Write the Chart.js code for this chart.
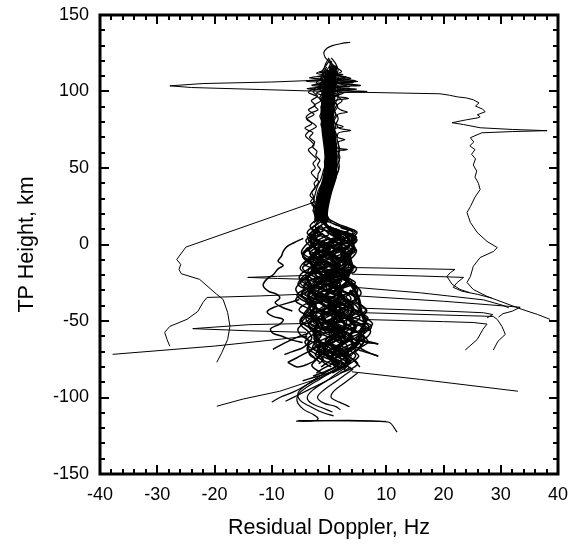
<!DOCTYPE html>
<html>
<head>
<meta charset="utf-8">
<script src="https://cdn.jsdelivr.net/npm/chart.js@4.4.1/dist/chart.umd.min.js"></script>
<style>
  html, body { margin: 0; padding: 0; background: #fff; }
  canvas { display: block; }
</style>
</head>
<body>
<canvas id="doppler" width="581" height="544"></canvas>
<script>
// Axis ticks (Hz across, km up)
const xMajorTicks = [-40, -30, -20, -10, 0, 10, 20, 30, 40];
const xMinorTicks = [-38, -36, -34, -32, -28, -26, -24, -22, -18, -16, -14, -12, -8, -6, -4, -2,
                     2, 4, 6, 8, 12, 14, 16, 18, 22, 24, 26, 28, 32, 34, 36, 38];
const yMajorTicks = [-150, -100, -50, 0, 50, 100, 150];
const yMinorTicks = [-140, -130, -120, -110, -90, -80, -70, -60, -40, -30, -20, -10,
                     10, 20, 30, 40, 60, 70, 80, 90, 110, 120, 130, 140];

// Each profile is a flat list: doppler, height, doppler, height, ...
// Dense centre of the upper profiles
const coreTraces = [
  [0.7,117, 0.7,112, 0.6,107, 0.5,101, 0.4,95, 0.3,89, 0.2,83, 0.3,77, 0.5,71, 0.7,65, 0.8,59, 0.8,53,
   0.7,47, 0.4,41, -0.1,35, -0.5,29, -0.8,23, -0.9,18, -0.7,14],
  [0.1,114, -0.2,109, -0.4,104, -0.6,98, -0.7,92, -0.8,86, -0.7,80, -0.6,74, -0.4,68, -0.2,62, -0.1,56,
   -0.2,50, -0.4,44, -0.8,38, -1.3,32, -1.7,26, -1.9,20, -1.8,15]
];

// Upper profiles, 15-132 km
const upperTraces = [
  [3.7,132.2, 2.0,131.2, 0.6,130, -0.3,128.4, -0.9,125.5, -0.7,122.6, -0.1,119.8, 0.5,117, 0.7,114],
  [0.2,121, -0.5,117, -1.2,113, -1.0,109, -2.2,106, -1.5,103, -2.8,100, -2.0,97, -3.1,94, -2.4,91,
   -3.6,88, -2.6,85, -3.9,82, -3.0,79, -4.2,76, -2.8,73, -3.4,70, -2.5,67, -2.9,64, -2.1,61, -2.3,58,
   -1.6,55, -2.0,52, -1.5,49, -1.9,46, -2.0,43, -2.6,40, -2.4,37, -3.0,34, -2.7,31, -3.2,28, -2.5,25,
   -2.8,22, -2.3,19, -2.5,16],
  [0.5,120, 0,116, -0.8,112, -1.5,108, -1.0,105, -2.5,102, -3.6,99.5, -2.2,97, -1.4,94, -2.6,91,
   -1.9,88, -3.2,86, -4.0,83, -3.1,80, -2.2,77, -3.5,74, -4.1,71, -3.3,68, -2.6,65, -3.6,62, -3.0,59,
   -2.2,56, -2.8,53, -2.4,50, -3.1,47, -2.5,44, -1.8,41, -2.3,38, -2.9,35, -3.3,32, -2.6,29, -3.0,26,
   -2.2,23, -2.6,20, -2.0,17, -2.6,14],
  [0.4,122, 1.2,118, 1.6,114, 1.4,111, 3.0,109.5, 1.5,108.5, 4.6,107, 1.6,106, 2.5,105, 5.5,104,
   1.4,103, 2.0,101, 6.6,100, 1.8,99, 1.5,97, 2.3,94, 1.4,91, 2.0,88, 3.2,86.5, 1.5,85, 1.6,82, 1.3,79,
   1.8,76, 3.8,74.5, 1.7,73, 1.5,70, 2.8,68.5, 1.6,67, 1.7,64, 1.8,61, 1.6,58, 1.8,55, 1.5,52, 1.7,49,
   1.4,46, 1.2,43, 0.9,40, 0.5,37, 0.2,34, -0.1,31, -0.3,28, -0.4,25, -0.4,22, -0.3,19, 0,16],
  [0,121, 0.8,117, 2.2,113, 1.0,111, 3.8,108.5, 1.2,107.5, 5.0,106.5, 0.9,105.5, 3.0,104, 1.2,102.5,
   4.8,101.5, 0.8,100.5, 2.5,99, 1.0,97, 3.4,95.5, 1.0,94, 1.3,91, 0.9,88, 1.2,85, 0.8,82, 1.1,79,
   2.5,77, 0.9,75.5, 1.1,72, 0.8,69, 1.2,66, 1.5,63, 3.2,62, 1.3,60.5, 1.4,57, 1.2,54, 1.3,51, 1.2,48,
   0.8,45, 0.4,42, 0,39, -0.4,36, -0.8,33, -1.0,30, -0.9,27, -0.8,24, -0.7,21, -0.4,18, 0.3,15],
  [0,122, -0.6,118, -1.0,114, -2.2,112, -0.8,110.5, -3.4,109, -1.0,108, -4.0,106.8, -0.9,105.8,
   -3.0,104.2, -1.2,103, -3.8,101.8, -1.0,100.8, -2.2,99, -0.9,97, -1.6,95, -0.8,92, -1.2,89, -0.9,86,
   -1.1,83, -0.8,80, -1.0,77, -0.7,74, -0.6,71, -0.3,68, -0.2,65, 0,62, 0.1,59, 0,56, -0.1,53, -0.3,50,
   -0.5,47, -0.8,44, -1.1,41, -1.5,38, -1.9,35, -2.1,32, -2.2,29, -2.3,26, -2.3,23, -2.1,20, -1.6,17,
   -1.2,14],
  [0.3,118, 1.0,114, -1.6,112.5, 2.4,111, -2.0,109.8, 3.2,108.2, -1.4,107, 4.2,105.8, -2.6,104.6,
   3.6,103.2, -1.8,102.2, 2.8,101, -0.8,99.6, 1.8,98, 0.2,96, 1.0,93, 0.4,90, 0.8,86, 0.3,82, 0.6,78,
   0.2,74, 0.6,70, 0.9,66, 1.0,62, 0.9,58, 1.0,54, 0.8,50, 0.5,46, 0.2,42, -0.2,38, -0.6,34, -1.0,30,
   -1.3,26, -1.5,22, -1.4,18, -0.8,14],
  [-0.4,116, -1.0,112, -1.4,108, -0.6,105, -1.6,102, -1.2,99, -1.6,96, -1.0,93, -1.4,90, -1.2,87,
   -1.6,84, -1.3,81, -1.4,78, -1.0,75, -1.1,72, -0.7,69, -0.8,66, -0.5,63, -0.6,60, -0.6,57, -0.8,54,
   -0.7,51, -1.0,48, -1.2,45, -1.5,42, -1.9,39, -2.2,36, -2.4,33, -2.6,30, -2.6,27, -2.7,24, -2.5,21,
   -2.3,18, -1.8,15],
  [1.0,116, 1.4,112, 1.6,108, 1.2,105, 2.0,102, 1.4,99, 1.6,96, 1.2,93, 1.5,90, 1.0,87, 1.3,84,
   0.9,81, 1.2,78, 1.0,75, 1.3,72, 1.4,69, 1.6,66, 1.8,63, 1.7,60, 1.9,57, 1.7,54, 1.8,51, 1.6,48,
   1.3,45, 1.0,42, 0.6,39, 0.2,36, -0.2,33, -0.5,30, -0.6,27, -0.6,24, -0.5,21, -0.2,18, 0.4,15]
];

// Densest strands of the lower tangle
const lowerCoreTraces = [
  [-0.8,14, 0.6,8, 2.4,3, 1.4,-3, -1.0,-8, -2.4,-14, -1.2,-20, 0.8,-26, 2.0,-32, 0.8,-38, -1.2,-44,
   -0.6,-50, 1.6,-56, 2.8,-62, 1.6,-68, 0.4,-74, 1.2,-80],
  [-1.6,12, -2.6,6, -1.4,0, 0.4,-6, 1.8,-12, 0.6,-18, -1.4,-24, -2.8,-30, -2.0,-36, 0,-42, 2.0,-48,
   2.8,-54, 1.0,-60, -0.8,-66, -0.4,-72, 1.6,-78],
  [0.4,10, 3.0,6, 3.6,0, 2.2,-6, 3.0,-12, 2.4,-18, 3.2,-24, 1.6,-30, 2.6,-36, 4.2,-42, 3.4,-48,
   4.6,-54, 3.6,-60, 4.2,-66, 2.8,-72, 3.4,-78],
  [-2.4,8, -3.2,2, -2.2,-4, -3.4,-10, -2.6,-16, -3.8,-22, -3.0,-28, -3.6,-34, -2.4,-40, -3.2,-46,
   -2.0,-52, -2.6,-58, -1.6,-64, -2.0,-70],
  [1.2,4, -0.4,-2, 0.6,-10, 1.8,-16, 0.2,-22, 0.4,-28, -0.6,-34, 0.8,-40, 1.4,-46, 0.4,-52, 1.4,-58,
   2.2,-64, 1.0,-70, 0.2,-76],
  [4.0,5, 4.2,-2, 3.6,-8, 4.0,-15, 3.0,-21, 4.2,-28, 5.2,-36, 5.6,-44, 6.4,-50, 5.6,-56, 5.2,-62,
   4.0,-68]
];

// Lower profiles, the tangled part below 18 km
const lowerTraces = [
  [-1.0,16, -2.2,13, -3.0,10, -2.0,7, -0.5,4, 0.8,1, 0.2,-2, -1.5,-5, -3.2,-8, -3.8,-11, -2.4,-14,
   -0.6,-17, 0.6,-20, -0.4,-23, -2.2,-26, -3.6,-29, -3.0,-32, -1.2,-35, 0.6,-38, 1.4,-41, 0.4,-44,
   -1.6,-47, -2.8,-50, -2.0,-53, -0.2,-56, 1.2,-59, 0.8,-62, -0.8,-65, -1.8,-68, -1.0,-71, 0.6,-74,
   1.8,-77, 1.2,-80, -0.6,-83, -2.8,-86],
  [-1.2,17, 0.5,14, 2.6,11, 4.6,8, 3.2,5, 1.2,2, 0.4,-1, 1.8,-4, 3.6,-7, 3.0,-10, 1.0,-13, -0.8,-16,
   -0.2,-19, 1.8,-22, 3.4,-25, 2.6,-28, 0.6,-31, -0.4,-34, 0.8,-37, 3.0,-40, 4.6,-43, 4.0,-46, 2.0,-49,
   0.6,-52, 1.4,-55, 3.4,-58, 4.2,-61, 3.0,-64, 1.4,-67, 1.0,-70, 2.4,-73, 3.8,-76, 3.0,-79, 1.2,-82,
   -0.4,-85],
  [-0.8,15, -0.2,12, 1.6,9.5, 3.8,7, 4.8,4.5, 3.6,2, 1.4,-0.5, -0.8,-3, -2.6,-6, -3.0,-9, -1.6,-12,
   0.4,-15, 1.8,-18, 1.4,-21, -0.4,-24, -2.4,-27, -4.2,-30, -4.8,-33, -3.4,-36, -1.2,-39, 0.2,-42,
   -0.4,-45, -2.2,-48, -3.6,-51, -3.2,-54, -1.4,-57, 0.4,-60, 1.0,-63, 0,-66, -1.6,-69, -2.4,-72,
   -1.4,-75, 0.4,-78, 2.2,-81],
  [-1.5,18, -2.6,15, -3.3,12, -2.4,9, -0.8,6, 0.6,3, 2.4,0, 3.8,-3, 3.2,-6, 1.6,-9, 0,-12, -1.4,-15,
   -2.8,-18, -3.4,-21, -2.2,-24, -0.2,-27, 1.8,-30, 3.4,-33, 3.8,-36, 2.6,-39, 0.8,-42, -0.8,-45,
   -1.2,-48, 0.2,-51, 2.2,-54, 4.6,-57, 6.2,-60, 5.4,-63, 3.4,-66, 2.0,-69, 2.6,-72, 4.2,-75, 5.0,-78,
   4.0,-81, 2.0,-84],
  [-1.8,14, -3.0,11, -3.8,8, -3.2,5, -2.0,2, -2.6,-1, -3.8,-4, -4.6,-7, -4.2,-10, -3.0,-13, -3.6,-16,
   -4.8,-19, -5.2,-22, -4.4,-25, -3.2,-28, -4.0,-31, -5.4,-34, -5.8,-37, -4.6,-40, -3.2,-43, -3.8,-46,
   -4.8,-49, -4.4,-52, -3.0,-55, -2.6,-58, -3.6,-61, -4.2,-64, -3.4,-67, -2.0,-70, -1.6,-73, -2.4,-76,
   -3.0,-79, -2.2,-82, -0.8,-85],
  [0.2,16, 1.8,13, 3.6,10.5, 4.9,8, 4.4,5, 4.8,2, 4.0,-1, 4.6,-4, 3.6,-7, 2.6,-10, 3.4,-13, 4.2,-16,
   3.6,-19, 2.8,-22, 3.8,-25, 4.8,-28, 4.2,-31, 3.0,-34, 3.8,-37, 5.6,-40, 6.4,-43, 5.6,-46, 6.8,-49,
   7.6,-52, 6.6,-55, 5.4,-58, 6.4,-61, 6.8,-64, 5.6,-67, 4.6,-70, 5.2,-73, 4.4,-76, 3.2,-79, 2.6,-82],
  [-0.6,13, 0.8,10, 2.0,7, 1.4,4, -0.4,1, -1.8,-2, -1.2,-5, 0.6,-8, 2.4,-11, 3.4,-14, 2.6,-17, 0.8,-20,
   -1.2,-23, -2.0,-26, -0.8,-29, 1.2,-32, 2.8,-35, 2.2,-38, 0.2,-41, -1.8,-44, -2.4,-47, -1.0,-50,
   1.0,-53, 2.6,-56, 2.2,-59, 0.6,-62, -1.0,-65, -0.6,-68, 1.0,-71, 2.8,-74, 3.6,-77, 2.8,-80, 0.8,-83,
   -1.8,-86, -4.6,-89],
  [-1.4,12, -0.6,9, 0.8,6, 2.8,3, 4.2,0, 4.0,-3, 2.4,-6, 0.4,-9, -1.6,-12, -2.8,-15, -2.2,-18, -0.6,-21,
   1.2,-24, 2.0,-27, 1.0,-30, -1.0,-33, -2.6,-36, -3.2,-39, -2.0,-42, 0.4,-45, 2.6,-48, 4.0,-51, 3.4,-54,
   1.8,-57, 0.2,-60, -0.6,-63, 0.4,-66, 2.0,-69, 3.2,-72, 2.4,-75, 0.6,-78, -1.0,-81, -2.2,-84],
  [-2.0,10, -3.4,7, -3.0,4, -1.4,1, 0.4,-2, 1.2,-5, 0.2,-8, -1.6,-11, -3.0,-14, -2.6,-17, -1.0,-20,
   0.8,-23, 1.2,-26, 0,-29, -2.0,-32, -3.6,-35, -4.0,-38, -2.8,-41, -1.0,-44, 0.8,-47, 1.4,-50, 0.4,-53,
   -1.4,-56, -2.6,-59, -2.2,-62, -0.6,-65, 1.2,-68, 2.0,-71, 1.4,-74, -0.2,-77, -1.4,-80],
  [0.6,11, 2.2,8, 3.0,5, 2.2,2, 0.6,-1, -0.8,-4, -0.2,-7, 1.4,-10, 2.6,-13, 2.0,-16, 0.4,-19, -1.6,-22,
   -2.8,-25, -2.2,-28, -0.4,-31, 1.8,-34, 3.6,-37, 4.2,-40, 3.0,-43, 1.2,-46, 0.4,-49, 1.6,-52, 3.6,-55,
   5.2,-58, 4.6,-61, 2.8,-64, 1.0,-67, 0.2,-70, 1.2,-73, 2.8,-76, 3.4,-79],
  [-0.2,15.5, -1.4,12.5, -2.6,9.5, -3.2,6.5, -2.2,3.5, -0.4,0.5, 1.0,-2.5, 0.6,-5.5, -1.0,-8.5,
   -2.2,-11.5, -1.4,-14.5, 0.6,-17.5, 2.6,-20.5, 4.0,-23.5, 3.2,-26.5, 1.2,-29.5, -0.6,-32.5, -1.2,-35.5,
   0.2,-38.5, 2.4,-41.5, 4.4,-44.5, 5.4,-47.5, 4.6,-50.5, 2.6,-53.5, 1.0,-56.5, 1.6,-59.5, 3.4,-62.5,
   4.8,-65.5, 4.2,-68.5, 2.4,-71.5, 0.8,-74.5],
  [0.8,13.5, 2.8,10.5, 4.2,8, 3.4,5.5, 1.4,3, -0.6,0.5, -2.4,-2.5, -3.4,-5.5, -2.6,-8.5, -0.8,-11.5,
   1.0,-14.5, 2.2,-17.5, 1.6,-20.5, -0.2,-23.5, -2.0,-26.5, -3.0,-29.5, -2.2,-32.5, -0.2,-35.5, 1.6,-38.5,
   2.0,-41.5, 0.8,-44.5, -1.0,-47.5, -1.8,-50.5, -0.8,-53.5, 1.0,-56.5, 2.8,-59.5, 3.4,-62.5, 2.4,-65.5,
   0.6,-68.5, -0.6,-71.5, 0,-74.5, 1.4,-77.5],
  [-1.6,9, -2.8,6, -4.0,3, -3.6,0, -2.2,-3, -1.0,-6, -1.8,-9, -3.4,-12, -4.6,-15, -4.0,-18, -2.6,-21,
   -1.8,-24, -2.8,-27, -4.6,-30, -5.6,-33, -4.8,-36, -3.0,-39, -2.0,-42, -2.8,-45, -4.2,-48, -4.6,-51,
   -3.6,-54, -2.0,-57, -1.4,-60, -2.4,-63, -3.6,-66, -3.4,-69, -2.0,-72, -1.0,-75, -1.8,-78],
  [1.2,10, 3.0,7.5, 4.6,5, 4.0,2.5, 2.4,0, 1.8,-3, 2.8,-6, 3.8,-9, 3.2,-12, 1.6,-15, 0.8,-18, 1.8,-21,
   3.4,-24, 4.6,-27, 4.2,-30, 2.6,-33, 1.4,-36, 2.0,-39, 3.8,-42, 5.6,-45, 6.8,-48, 6.2,-51, 4.4,-54,
   3.0,-57, 3.4,-60, 4.8,-63, 5.6,-66, 5.0,-69, 3.6,-72, 3.0,-75, 3.8,-78],
  [-0.4,8, 1.0,5, 2.0,2, 1.0,-1, -0.8,-4, -2.2,-7, -1.8,-10, -0.2,-13, 1.6,-16, 2.8,-19, 2.2,-22,
   0.4,-25, -1.4,-28, -1.8,-31, -0.2,-34, 1.8,-37, 3.0,-40, 2.2,-43, 0.4,-46, -0.8,-49, 0,-52, 1.8,-55,
   3.4,-58, 3.8,-61, 2.6,-64, 0.8,-67, -0.4,-70, 0.2,-73, 1.8,-76, 3.0,-79, 4.2,-82],
  [-2.4,4, -1.2,1, 0.8,-2, 2.6,-5, 3.2,-8, 2.0,-11, 0,-14, -1.8,-17, -2.4,-20, -1.0,-23, 1.0,-26,
   2.4,-29, 2.0,-32, 0.2,-35, -1.8,-38, -3.4,-41, -3.8,-44, -2.4,-47, -0.4,-50, 1.6,-53, 2.2,-56,
   1.0,-59, -1.0,-62, -2.6,-65, -2.8,-68, -1.4,-71, 0.4,-74, 1.6,-77, 1.0,-80, -0.6,-83],
  [-0.4,3, -2.0,0, -3.4,-3, -3.2,-6, -1.6,-9, 0.2,-12, 1.0,-15, 0,-18, -1.8,-21, -3.6,-24, -4.4,-27,
   -3.6,-30, -1.6,-33, 0.2,-36, 0.6,-39, -0.6,-42, -2.6,-45, -4.0,-48, -3.6,-51, -1.8,-54, 0,-57,
   0.6,-60, -0.2,-63, -2.0,-66, -3.2,-69, -3.4,-72, -2.4,-75, -3.6,-78, -5.6,-80, -7.2,-77],
  [0,6.5, -1.6,3.5, -2.8,0.5, -2.2,-2.5, -0.4,-5.5, 1.6,-8.5, 3.0,-11.5, 2.8,-14.5, 1.2,-17.5,
   -0.8,-20.5, -2.4,-23.5, -2.4,-26.5, -0.8,-29.5, 1.2,-32.5, 2.2,-35.5, 1.4,-38.5, -0.6,-41.5,
   -2.4,-44.5, -3.0,-47.5, -1.6,-50.5, 0.6,-53.5, 2.4,-56.5, 2.8,-59.5, 1.4,-62.5, -0.6,-65.5,
   -1.8,-68.5, -1.2,-71.5, 0.8,-74.5, 2.6,-77.5, 3.0,-80.5],
  [1.8,9, 3.8,6, 4.9,3, 3.8,0, 2.0,-3, 1.0,-6, 1.8,-9, 3.2,-12, 4.0,-15, 3.0,-18, 1.0,-21, -0.4,-24,
   0.2,-27, 2.2,-30, 4.0,-33, 4.8,-36, 4.0,-39, 2.2,-42, 1.6,-45, 2.8,-48, 4.8,-51, 6.4,-54, 6.0,-57,
   4.2,-60, 2.6,-63, 2.2,-66, 3.4,-69, 4.6,-72, 4.2,-75, 2.6,-78, 1.4,-81],
  [-1.2,2, -2.8,-1, -4.2,-4, -4.6,-7, -3.6,-10, -2.0,-13, -1.6,-16, -2.8,-19, -4.4,-22, -5.0,-25,
   -4.2,-28, -2.6,-31, -2.0,-34, -3.0,-37, -4.6,-40, -5.2,-43, -4.0,-46, -2.2,-49, -1.4,-52, -2.2,-55,
   -3.8,-58, -4.0,-61, -2.8,-64, -1.2,-67, -0.8,-70, -1.8,-73, -2.6,-76],
  [0.4,12, -1.2,10, 0.8,8, 2.2,6, 0.6,4, -1.4,2, -0.4,0, 1.6,-2, 2.4,-4, 0.8,-6, -1.2,-8, -2.0,-10,
   -0.6,-12, 1.2,-14, 0.4,-16, -1.6,-18, -2.4,-20, -1.0,-22, 0.8,-24, 2.0,-26, 1.0,-28, -0.8,-30,
   -1.4,-32, 0.2,-34, 2.2,-36, 3.0,-38, 1.8,-40, 0.2,-42, 0.6,-44, 2.4,-46, 3.6,-48, 2.6,-50, 0.8,-52,
   0,-54, 1.4,-56, 3.0,-58, 2.4,-60, 0.6,-62, -0.4,-64, 0.6,-66, 2.2,-68, 2.6,-70, 1.2,-72, 0,-74,
   0.8,-76, 2.4,-78],
  [-2.2,11, -1.0,9, -2.6,7, -3.8,5, -2.4,3, -1.2,1, -2.8,-1, -4.0,-3, -3.0,-5, -1.4,-7, -2.4,-9,
   -3.8,-11, -4.4,-13, -3.2,-15, -1.8,-17, -2.6,-19, -4.0,-21, -3.6,-23, -2.0,-25, -1.2,-27, -2.2,-29,
   -3.8,-31, -4.2,-33, -2.8,-35, -1.6,-37, -2.4,-39, -3.6,-41, -3.0,-43, -1.6,-45, -0.8,-47, -1.8,-49,
   -3.2,-51, -3.0,-53, -1.6,-55, -0.6,-57, -1.2,-59, -2.6,-61, -2.4,-63, -1.2,-65, -0.2,-67, -0.8,-69,
   -1.8,-71, -1.2,-73, 0,-75],
  [2.0,11, 3.4,9, 2.2,7, 3.8,5, 4.6,3, 3.2,1, 2.0,-1, 3.0,-3, 4.2,-5, 3.4,-7, 1.8,-9, 2.4,-11, 3.8,-13,
   4.4,-15, 3.0,-17, 1.6,-19, 2.2,-21, 3.8,-23, 4.6,-25, 3.6,-27, 2.2,-29, 2.8,-31, 4.2,-33, 5.0,-35,
   4.0,-37, 2.6,-39, 3.2,-41, 4.8,-43, 5.8,-45, 5.0,-47, 3.6,-49, 4.0,-51, 5.4,-53, 6.0,-55, 4.8,-57,
   3.4,-59, 3.8,-61, 5.0,-63, 5.2,-65, 4.0,-67, 2.8,-69, 3.2,-71, 4.0,-73],
  [-1.8,16, -2.4,12, -1.6,8, 0,4, 1.8,0, 2.8,-4, 2.4,-8, 0.6,-12, -1.6,-16, -3.4,-20, -4.2,-24,
   -3.4,-28, -1.4,-32, 1.0,-36, 2.8,-40, 3.4,-44, 2.4,-48, 0.4,-52, -1.6,-56, -2.4,-60, -1.6,-64,
   0.4,-68, 2.2,-72, 3.0,-76, 2.4,-80, 0.6,-84],
  [0.6,9, 2.4,7, 3.0,4.5, 2.0,3.5, 1.2,5, 1.8,6.5, 0.8,3, -0.6,0, -1.8,-3, -1.2,-5.5, 0,-4.5, 0.2,-3,
   -0.8,-5, -2.0,-8, -2.8,-11, -1.8,-13.5, -0.6,-12.5, -0.8,-11, -1.6,-13.5, -1.0,-17, 0.8,-19.5,
   2.0,-21, 1.6,-23, 0.6,-22, 1.0,-20.5, 1.8,-23.5, 1.2,-27, -0.6,-30, -2.0,-32, -1.8,-34.5, -0.8,-33.5,
   -1.2,-32, -1.6,-35, -0.4,-38, 1.6,-40.5, 2.8,-43, 2.2,-45.5, 1.2,-44.5, 1.6,-43, 2.4,-46, 2.0,-49.5,
   0.4,-52.5, -0.8,-55, -0.4,-57.5, 0.8,-56.5, 0.4,-55, 0,-58, 1.0,-61.5, 2.6,-64, 3.2,-67, 2.4,-69.5,
   1.4,-68.5, 1.8,-67, 2.4,-70, 2.0,-73.5],
  [-2.8,6, -3.6,3, -2.6,0.5, -1.8,2, -2.4,3.5, -3.0,0.5, -3.6,-3, -4.4,-6, -3.4,-8.5, -2.6,-7.5,
   -2.8,-6, -3.4,-9, -4.6,-12.5, -5.0,-16, -3.8,-18.5, -3.0,-17, -3.4,-15.5, -3.8,-18.5, -4.8,-22,
   -5.4,-26, -4.4,-28.5, -3.6,-27, -4.0,-25.5, -4.4,-29, -4.8,-33, -3.8,-36.5, -2.6,-38, -2.2,-36.5,
   -3.0,-35.5, -3.0,-39, -3.8,-42.5, -4.4,-46, -3.2,-48.5, -2.4,-47, -3.0,-46, -3.0,-49.5, -3.6,-53,
   -3.0,-56.5, -1.8,-59, -1.4,-57.5, -2.2,-57, -2.0,-60.5, -2.6,-64, -2.0,-67.5, -0.8,-70],
  [3.2,7, 4.4,4.5, 3.6,2, 2.6,3, 3.0,4.5, 3.8,1, 4.6,-2.5, 4.0,-6, 2.8,-8, 2.4,-6.5, 3.2,-5.5, 3.2,-9,
   3.8,-12.5, 4.8,-15.5, 4.2,-18.5, 3.2,-17.5, 3.4,-16, 3.6,-19.5, 3.2,-23, 4.2,-26.5, 5.0,-29.5,
   4.6,-32.5, 3.6,-31.5, 3.8,-30, 4.4,-33.5, 4.6,-37, 5.8,-40, 6.6,-43, 6.0,-46, 5.0,-45, 5.4,-43.5,
   5.8,-47, 6.2,-50.5, 7.4,-53, 7.0,-56, 5.8,-55, 6.0,-53.5, 6.2,-57, 5.6,-61, 6.0,-64.5, 5.0,-67.5,
   4.2,-66, 4.8,-65, 4.6,-68.5, 4.0,-72],
  [-0.2,10, 1.4,7, 2.8,4, 2.0,1, 0.2,-2, -1.6,-5, -2.4,-8, -1.2,-11, 0.8,-14, 2.6,-17, 3.4,-20,
   2.2,-23, 0.2,-26, -1.4,-29, -2.6,-32, -2.0,-35, -0.2,-38, 1.6,-41, 2.4,-44, 1.4,-47, -0.6,-50,
   -2.2,-53, -2.6,-56, -1.0,-59, 0.8,-62, 2.0,-65, 1.6,-68, 0,-71, -1.2,-74, -1.0,-77, 0.4,-80],
  [-1.0,7, -2.6,5, -1.8,2, 0.2,-1, 1.0,-3, 0,-5.5, -1.6,-8, -1.0,-10.5, 0.8,-13, 1.8,-15.5, 1.0,-18,
   -0.8,-20.5, -1.6,-23, -0.6,-25.5, 1.2,-28, 2.2,-30.5, 1.4,-33, -0.4,-35.5, -1.4,-38, -0.6,-40.5,
   1.2,-43, 2.4,-45.5, 1.8,-48, 0,-50.5, -1.2,-53, -0.6,-55.5, 1.0,-58, 2.0,-60.5, 1.2,-63, -0.4,-65.5,
   -1.0,-68, 0,-70.5, 1.6,-73, 2.4,-75.5],
  [1.0,5, 2.6,2, 4.0,-1, 4.8,-4, 4.2,-8, 2.8,-12, 1.6,-16, 2.0,-20, 3.6,-24, 5.0,-28, 5.6,-32,
   4.6,-36, 3.0,-40, 2.4,-44, 3.6,-48, 5.6,-52, 7.2,-56, 6.8,-60, 5.2,-64, 3.8,-68, 3.4,-72, 4.4,-76,
   5.4,-80],
  [-1.4,6, -3.0,3, -4.2,-1, -4.8,-5, -4.2,-9, -3.0,-13, -2.6,-17, -3.6,-21, -5.0,-25, -5.8,-29,
   -5.2,-33, -3.8,-37, -3.2,-41, -4.0,-45, -5.0,-49, -4.8,-53, -3.6,-57, -3.0,-61, -3.6,-65, -3.8,-69,
   -2.8,-73, -1.6,-77],
  [0.4,2, -0.8,0, 0.6,-2, 1.8,-4, 1.0,-6, -0.6,-8, 0.2,-10, 1.6,-12, 2.0,-14, 0.8,-16, -0.6,-18,
   0,-20, 1.4,-22, 2.2,-24, 1.2,-26, 0,-28, 0.6,-30, 2.0,-32, 2.8,-34, 2.0,-36, 0.8,-38, 1.2,-40,
   2.6,-42, 3.2,-44, 2.2,-46, 1.2,-48, 1.8,-50, 3.0,-52, 3.4,-54, 2.4,-56, 1.4,-58, 2.0,-60, 3.0,-62,
   2.8,-64, 1.6,-66, 1.0,-68, 1.8,-70, 2.8,-72, 3.6,-74],
  [-0.6,1, -1.8,-1, -0.8,-3, -1.6,-5, -3.0,-7, -2.2,-9, -0.8,-11, -1.6,-13, -2.8,-15, -2.0,-17,
   -0.6,-19, -1.2,-21, -2.6,-23, -2.2,-25, -0.8,-27, -0.4,-29, -1.4,-31, -2.2,-33, -1.2,-35, 0.2,-37,
   0,-39, -1.2,-41, -1.8,-43, -0.8,-45, 0.6,-47, 0.4,-49, -0.8,-51, -1.4,-53, -0.4,-55, 0.8,-57,
   0.6,-59, -0.4,-61, -0.6,-63, 0.4,-65, 1.6,-67, 1.2,-69, 0.2,-71],
  [2.8,-36, 4.4,-39, 5.2,-43, 4.0,-47, 3.0,-51, 4.2,-55, 5.6,-59, 6.2,-63, 5.4,-67, 6.6,-70, 8.6,-73],
  [1.6,-44, 3.6,-47, 5.8,-50, 7.0,-54, 6.2,-58, 4.8,-61, 6.0,-63.5, 8.6,-65],
  [-2.0,-46, -3.8,-50, -5.4,-55, -5.0,-59, -3.6,-63, -4.4,-67, -6.4,-70, -7.8,-72],
  // stragglers off the left edge of the bundle
  [-4.5,4, -6.2,1, -7.4,-1.5, -8.0,-4.5, -8.3,-7.6, -8.9,-10.9, -8.0,-13.7, -8.9,-15.9, -9.7,-19.6,
   -10.9,-22.8, -11.5,-26.7, -10.6,-30.4, -9.1,-32.6, -8.6,-35, -9.4,-38, -8.2,-41, -6.4,-43.5],
  [-5.2,-36, -7.4,-38.5, -9.6,-41, -10.8,-44, -9.8,-47, -8.0,-49, -8.6,-52, -10.2,-55, -9.8,-58,
   -8.2,-60, -6.4,-62.5, -4.6,-64],
  [-3.6,-58, -5.8,-61, -7.8,-64.5, -9.8,-68.5],
  [-1.6,-66, -3.6,-70, -5.6,-74, -7.2,-77],
  // short tails off the right edge
  [5.0,-62, 7.0,-63.6, 8.6,-65],
  [5.2,-69, 7.0,-71, 8.6,-73]
];

// Profiles that run down below -80 km
const bottomTraces = [
  [2.4,-79.5, -1.6,-88, -5.0,-96.5, -5.6,-102, -4.5,-107.6, -2.8,-111, -1.9,-113.7, -2.4,-115.3,
   -4.5,-115.6, -5.6,-115.4, 10.3,-116, 11.9,-122.6],
  [3.0,-80, 0,-88, -2.8,-95, -3.8,-100, -3.0,-104, -1.0,-107, 0.6,-109.5],
  [4.0,-82, 1.4,-89, -1.2,-96, -2.0,-100, -1.0,-103.5, 1.2,-106, 2.0,-108],
  [2.0,-78, -1.2,-85, -4.0,-92, -5.4,-97, -5.0,-102, -3.2,-106, -1.0,-110, 0.8,-112],
  [5.0,-84, 2.5,-91, 0.8,-96, 0.4,-100, 1.8,-103, 3.6,-106],
  [2.4,-78, 0.4,-83, -2.6,-89, -6.0,-96, -8.6,-100, -10,-103],
  [3.8,-80, 1.2,-86, -2.0,-92, -5.2,-98, -7.6,-102.5]
];

// Long excursions, drawn as straight segments between readings
const straightTraces = [
  // x = -28 spike at 104 km, back across to the right-hand profile
  [-1.0,107.5, -10,106.2, -22,105.2, -27.8,103.7, -24,102.6, -12,101.3, -2,100.2, 4,99.6, 19.4,98.5,
   21,97.6, 22.4,96.5, 24,95.8, 25.2,94.6, 26.2,92.6, 25.6,90.5, 26.8,88.5, 27.3,86.8, 25.9,84.8,
   26.4,83.5, 26,82.8, 24,81.5, 21.5,79.6, 23.5,78.4, 26.4,76.3, 32,75.2, 38.1,74.4, 32,73.8, 26.7,73,
   24.7,69.8, 25.3,67, 24.6,64.5, 25.5,62, 24.9,59, 25.6,56, 25.2,52, 25.8,48, 25.5,44, 26.1,40,
   26.4,35.9, 25.5,31, 24.7,24.8, 24.1,20.9, 24.7,14.4, 25.9,7.8, 27.6,2, 29.4,-2, 28.7,-4.6, 26.4,-8.5,
   25.2,-14.3, 24.7,-20.9, 24.1,-24.8, 25.2,-29.4, 27.6,-33.9, 30.4,-37.8, 33.7,-42.4, 36.4,-45.7,
   38.6,-48.9],
  // left-hand profile from 27 km
  [-1.4,29, -2.8,27.4, -25,-1.7, -26.6,-9.8, -25.9,-13, -26.2,-16.3, -25.8,-19.1, -22.6,-22.8,
   -19.6,-32.6, -18.5,-35.9, -17.7,-44.5, -17.3,-53.5, -17.7,-62, -18.7,-70.5, -19.6,-77],
  [-2.6,-32.2, -12,-33.6, -21.3,-34.6, -22,-37.8, -22.9,-43.7, -24.8,-48.9, -27.8,-53.5, -28.7,-57.4,
   -28.3,-62, -27.8,-66.5],
  [-3.2,-20.2, -9,-20.8, -14.2,-21.5, -9,-22.2, -3.6,-22.8],
  [-3.6,-51.6, -14,-52.4, -23.8,-55, -14,-56.4, -4,-57.4],
  [-3.8,-60, -20,-66.4, -37.8,-71.8],
  [-1.0,-86.5, -3.8,-90, -8.6,-95.9, -15,-101, -19.6,-105.7],
  // right-hand runs from the bundle
  [3.0,-15, 14,-15.7, 22,-16.3, 21.2,-18.4, 20.6,-20.9, 21.5,-26, 22.9,-29.4, 24.6,-31.5],
  [4.0,-19.4, 16,-20.6, 23.5,-21.5, 22.4,-24.8, 21.7,-28, 23.2,-30.5, 26.0,-32.6, 28.4,-35],
  [4.6,-28, 16,-31.6, 27,-36.2, 30.4,-39.8, 31.4,-41.4],
  [5.0,-33.6, 20,-37.1, 33.4,-41, 32.0,-43.6, 30.4,-45.2, 29.6,-47.5],
  [5.4,-44.5, 20,-46.1, 28.7,-47, 29.4,-49, 30.2,-53.5, 30.8,-58.7, 29.5,-63.3, 28.7,-69],
  [6.0,-49, 20,-50.4, 25.2,-51, 27.6,-52, 26.9,-55.4, 25.9,-62, 23.8,-69],
  [5.6,-41.6, 22,-43.8, 27,-44.6, 28.6,-45.8, 27.6,-48],
  [4.0,-83.2, 16,-88.2, 33,-95.9],
  [-5.4,-115.0, 10.0,-115.6]
];

function toPoints(flat) {
  const pts = [];
  for (let i = 0; i < flat.length; i += 2) pts.push({ x: flat[i], y: flat[i + 1] });
  return pts;
}

const ink = '#000';
const datasets = [];
function addGroup(traces, width, tension) {
  traces.forEach(t => datasets.push({
    data: toPoints(t),
    showLine: true,
    borderColor: ink,
    borderWidth: width,
    tension: tension,
    pointRadius: 0,
    fill: false
  }));
}
addGroup(straightTraces, 1, 0);
addGroup(bottomTraces, 1.2, 0.35);
addGroup(lowerTraces, 1.5, 0.35);
addGroup(lowerCoreTraces, 3.2, 0.35);
addGroup(upperTraces, 1.2, 0.3);
addGroup(coreTraces, 8, 0.4);

// frame plus inward ticks on all four sides
const frameTicks = {
  id: 'frameTicks',
  afterDraw(chart) {
    const { ctx, chartArea: a, scales: { x, y } } = chart;
    ctx.save();
    ctx.strokeStyle = ink;
    ctx.lineWidth = 3;
    ctx.strokeRect(a.left, a.top, a.right - a.left, a.bottom - a.top);
    ctx.lineWidth = 2;
    ctx.beginPath();
    const xt = (vals, len) => vals.forEach(v => {
      const p = Math.round(x.getPixelForValue(v));
      ctx.moveTo(p, a.bottom); ctx.lineTo(p, a.bottom - len);
      ctx.moveTo(p, a.top); ctx.lineTo(p, a.top + len);
    });
    const yt = (vals, len) => vals.forEach(v => {
      const p = Math.round(y.getPixelForValue(v));
      ctx.moveTo(a.left, p); ctx.lineTo(a.left + len, p);
      ctx.moveTo(a.right, p); ctx.lineTo(a.right - len, p);
    });
    xt(xMajorTicks, 9); xt(xMinorTicks, 5);
    yt(yMajorTicks, 9); yt(yMinorTicks, 5);
    ctx.stroke();
    ctx.restore();
  }
};

const fontFamily = '"Liberation Sans", Arial, Helvetica, sans-serif';

new Chart(document.getElementById('doppler'), {
  type: 'scatter',
  data: { datasets },
  options: {
    responsive: false,
    animation: false,
    devicePixelRatio: 1,
    layout: { padding: { top: 15, right: 23, left: 0, bottom: 0 } },
    plugins: { legend: { display: false }, tooltip: { enabled: false } },
    scales: {
      x: {
        type: 'linear', min: -40, max: 40,
        afterFit(s) { s.height = 70; s.paddingLeft = 0; s.paddingRight = 0; },
        afterBuildTicks(s) { s.ticks = xMajorTicks.map(v => ({ value: v })); },
        grid: { display: false, drawTicks: false },
        border: { display: false },
        ticks: { padding: 10, color: ink, autoSkip: false, maxRotation: 0,
                 font: { family: fontFamily, size: 18 }, callback: v => String(v) },
        title: { display: true, text: 'Residual Doppler, Hz', color: ink,
                 font: { family: fontFamily, size: 21.5 }, padding: { top: 0, bottom: 3 } }
      },
      y: {
        type: 'linear', min: -150, max: 150,
        afterFit(s) { s.width = 100; s.paddingTop = 0; s.paddingBottom = 0; },
        afterBuildTicks(s) { s.ticks = yMajorTicks.map(v => ({ value: v })); },
        grid: { display: false, drawTicks: false },
        border: { display: false },
        ticks: { padding: 11, color: ink, autoSkip: false,
                 font: { family: fontFamily, size: 18 }, callback: v => String(v) },
        title: { display: true, text: 'TP Height, km', color: ink,
                 font: { family: fontFamily, size: 21.5 }, padding: { top: 14, bottom: 0 } }
      }
    }
  },
  plugins: [frameTicks]
});
</script>
</body>
</html>
